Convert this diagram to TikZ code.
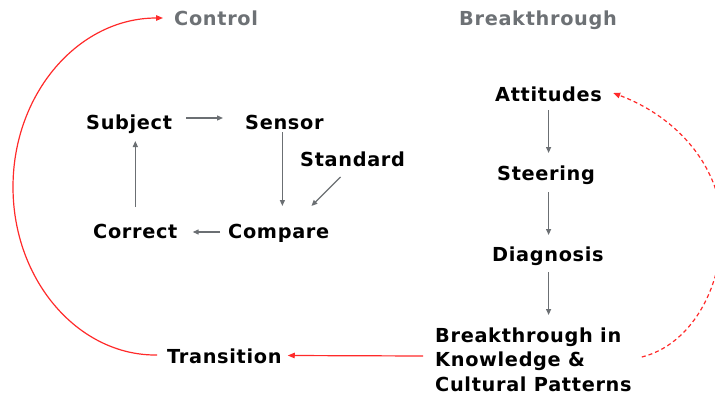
\documentclass[tikz,border=0pt]{standalone}
\usepackage{fontspec}
\setmainfont{DejaVu Sans}[LetterSpace=3.5]
\usetikzlibrary{arrows.meta,calc}
\definecolor{labelgray}{HTML}{6D7175}
\definecolor{arrowgray}{HTML}{6B6F73}
\definecolor{loopred}{HTML}{FF2A2A}
\begin{document}
\begin{tikzpicture}[x=1pt,y=-1pt,
  lbl/.style={inner sep=0pt,anchor=base west,font=\fontsize{19.3}{24.5}\selectfont\bfseries,text=black},
  head/.style={lbl,text=labelgray},
  flow/.style={draw=arrowgray,line width=1.2pt,-{Triangle[length=6pt,width=5pt]}},
  loop/.style={draw=loopred,line width=1.2pt,-{Triangle[length=7pt,width=5.5pt]}}]
\useasboundingbox (0,0) rectangle (715,396);
\clip (0,0) rectangle (715,396);

% column headings
\node[head] (ctl) at (174,26) {Control};
\node[head] (bth) at (459,26) {Breakthrough};

% control loop
\node[lbl] (subj) at (86,129) {Subject};
\node[lbl] (sens) at (245,129) {Sensor};
\node[lbl] (std)  at (300,166) {Standard};
\node[lbl] (corr) at (93,238)  {Correct};
\node[lbl] (comp) at (228,238) {Compare};
\node[lbl] (trans) at (167,363) {Transition};

% breakthrough sequence
\node[lbl] (att)   at (495,101) {Attitudes};
\node[lbl] (steer) at (497,180) {Steering};
\node[lbl] (diag)  at (492,261) {Diagnosis};
\node[lbl,anchor=north west,align=left] (brk) at (435,327.5)
  {Breakthrough in\\Knowledge \&\\Cultural Patterns};

% control loop arrows
\draw[flow] ($(subj.base east)+(14,-11)$) -- ($(sens.base west)+(-22,-11)$);
\draw[flow] ($(sens.base)+(-2,3)$) -- ({$(sens.base)+(-2,3)$} |- {$(comp.base)+(0,-32)$});
\draw[flow] ($(std.base)+(-12,11)$) -- ($(comp.base east)+(-18,-32)$);
\draw[flow] ($(comp.base west)+(-8,-6)$) -- ($(corr.base east)+(15,-6)$);
\draw[flow] ($(corr.base)+(0,-31)$) -- ({$(corr.base)+(0,-31)$} |- {$(subj.base)+(0,12)$});

% breakthrough arrows
\draw[flow] ($(att.base)+(0,9)$) -- ({$(att.base)+(0,9)$} |- {$(steer.base)+(0,-27)$});
\draw[flow] ({$(att.base)$} |- {$(steer.base)+(0,12)$}) -- ({$(att.base)$} |- {$(diag.base)+(0,-26)$});
\draw[flow] ({$(att.base)$} |- {$(diag.base)+(0,11)$}) -- ({$(att.base)$} |- {$(brk.north)+(0,-12.5)$});

% transitions between the two cycles
\draw[loop] ($(brk.north west)+(-12,28.5)$) -- ($(trans.base east)+(6,-7.5)$);
\draw[loop] ($(trans.base west)+(-10,-8)$)
  .. controls (78.8,356) and (13,280.9) .. (13,187)
  .. controls (13,93.1) and (78.8,18) .. ($(ctl.base west)+(-11,-8)$);
\draw[loop,dashed,dash pattern=on 4pt off 3pt] ($(brk.north east)+(10,29.5)$)
  .. controls (690,345) and (722,290) .. (722,228)
  .. controls (722,170) and (680,118) .. ($(att.base east)+(11,-8)$);
\end{tikzpicture}
\end{document}
